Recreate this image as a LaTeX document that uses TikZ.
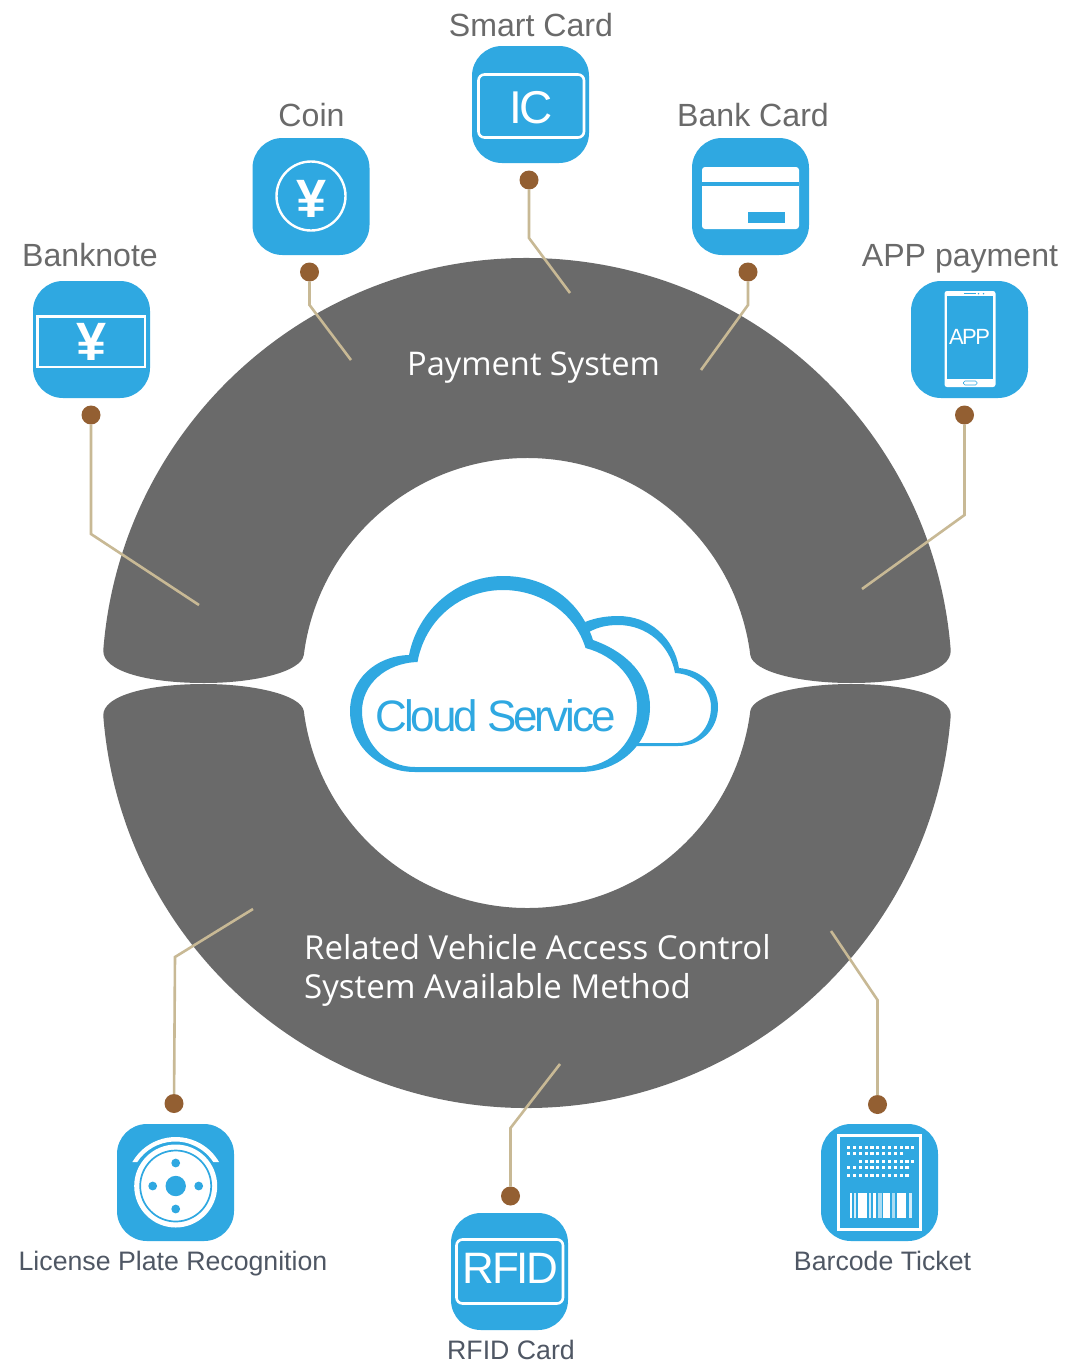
\documentclass[tikz,border=0pt]{standalone}
\usepackage{fontspec}
\setmainfont{Liberation Sans}
\newfontfamily\ringfont{Open Sans}
\newfontfamily\tightfont[LetterSpace=-7]{Liberation Sans}
\newfontfamily\rfidfont[LetterSpace=-5.5]{Liberation Sans}
\newfontfamily\yenfont{Liberation Sans Bold}
\definecolor{ringgray}{HTML}{6A6A6A}
\definecolor{iconblue}{HTML}{2FA8E1}
\definecolor{dotbrown}{HTML}{935F32}
\definecolor{conntan}{HTML}{C8B995}
\definecolor{labelgray}{HTML}{6A6A6A}
\definecolor{labeldark}{HTML}{4F5764}
\tikzset{
  ringshape/.style={fill=ringgray,draw=none},
  iconbox/.style={fill=iconblue,draw=none,rounded corners=30pt,minimum size=117pt,inner sep=0pt,outer sep=0pt},
  pin/.style={circle,fill=dotbrown,draw=none,minimum size=19pt,inner sep=0pt,outer sep=0pt},
  conn/.style={draw=conntan,line width=2.6pt,line join=miter},
  toplabel/.style={anchor=base,inner sep=0pt,text=labelgray,font=\fontsize{32.1}{38}\selectfont},
  botlabel/.style={anchor=base,inner sep=0pt,text=labeldark,font=\fontsize{26.7}{32}\selectfont},
  ringlabel/.style={anchor=base west,inner sep=0pt,text=white,font=\ringfont\fontsize{33}{39}\selectfont,align=left},
  whitebox/.style={draw=white,line width=2.6pt,fill=none},
  icontext/.style={anchor=base,inner sep=0pt,text=white},
  yen/.style={anchor=base,inner sep=0pt,text=white,font=\yenfont\fontsize{54}{54}\selectfont},
  cloudfill/.style={fill=iconblue,draw=none,even odd rule},
}
\begin{document}
\begin{tikzpicture}[x=1pt,y=-1pt]
\useasboundingbox (0,0) rectangle (1068,1365);
\fill[white] (0,0) rectangle (1068,1365);
% ---- ring halves
\path[ringshape] (103.3,650) arc[start angle=184.45,end angle=355.55,radius=425]
  .. controls (952,672) and (905,683) .. (851,683)
  .. controls (800,683) and (753,672) .. (750.3,655)
  arc[start angle=352.85,end angle=187.15,radius=225]
  .. controls (301,672) and (254,683) .. (204,683)
  .. controls (150,683) and (102,672) .. (103.3,650) -- cycle;
\path[ringshape] (103.3,716) arc[start angle=175.55,end angle=4.45,radius=425]
  .. controls (952,695) and (905,684) .. (851,684)
  .. controls (800,684) and (753,695) .. (750.3,711)
  arc[start angle=7.15,end angle=172.85,radius=225]
  .. controls (301,695) and (254,684) .. (204,684)
  .. controls (150,684) and (102,695) .. (103.3,716) -- cycle;
% ---- connector free ends
\coordinate (j1) at (91,534);   \coordinate (e1) at (199,605);
\coordinate (j2) at (309.5,305);  \coordinate (e2) at (351,360);
\coordinate (j3) at (529,238);  \coordinate (e3) at (570,293);
\coordinate (j4) at (748,305);  \coordinate (e4) at (701,370);
\coordinate (j5) at (964.5,515);  \coordinate (e5) at (862,589);
\coordinate (j6) at (175,957);  \coordinate (e6) at (253,909);
\coordinate (j7) at (510.5,1128); \coordinate (e7) at (560,1064);
\coordinate (j8) at (877.5,1000); \coordinate (e8) at (831,931);
% ---- pins
\node[pin] (p1) at (91,415) {};
\node[pin] (p2) at (309.5,272) {};
\node[pin] (p3) at (529,180) {};
\node[pin] (p4) at (748,272) {};
\node[pin] (p5) at (964.5,415) {};
\node[pin] (p6) at (174,1103.5) {};
\node[pin] (p7) at (510.5,1196) {};
\node[pin] (p8) at (877.5,1104.5) {};
\draw[conn] (p1) -- (j1) -- (e1);
\draw[conn] (p2) -- (j2) -- (e2);
\draw[conn] (p3) -- (j3) -- (e3);
\draw[conn] (p4) -- (j4) -- (e4);
\draw[conn] (p5) -- (j5) -- (e5);
\draw[conn] (p6) -- (j6) -- (e6);
\draw[conn] (p7) -- (j7) -- (e7);
\draw[conn] (p8) -- (j8) -- (e8);
% ---- icon boxes
\node[iconbox] (banknote) at (91.5,339.5) {};
\node[iconbox] (coin) at (311,196.5) {};
\node[iconbox] (smart) at (530.5,104.5) {};
\node[iconbox] (bank) at (750.5,196.5) {};
\node[iconbox] (app) at (969.5,339.5) {};
\node[iconbox] (lpr) at (175.5,1182.5) {};
\node[iconbox] (rfid) at (509.5,1271.5) {};
\node[iconbox] (barcode) at (879.5,1182.5) {};
% ---- labels
\node[toplabel] (lbanknote) at (90,266) {Banknote};
\node[toplabel] (lcoin) at (311.5,126) {Coin};
\node[toplabel] (lsmart) at (531,36) {Smart Card};
\node[toplabel] (lbank) at (753,126) {Bank Card};
\node[toplabel] (lapp) at (960,266) {APP payment};
\node[botlabel] (llpr) at (173,1270) {License Plate Recognition};
\node[botlabel] (lrfid) at (511,1359) {RFID Card};
\node[botlabel] (lbarcode) at (882.5,1270) {Barcode Ticket};
\node[ringlabel,font=\ringfont\fontsize{32.6}{39}\selectfont] (lpay) at (407,375) {Payment System};
\node[ringlabel] (lrel) at (304,998) {Related Vehicle Access Control\\System Available Method};
% ---- banknote glyph
\draw[whitebox] (37.5,316.5) rectangle (145,367);
\node[yen] (yen1) at (91.5,360) {¥};
% ---- coin glyph
\draw[white,line width=2.4pt] (311,196) circle[radius=34.5];
\node[yen] (yen2) at (312,217) {¥};
% ---- IC
\draw[whitebox,rounded corners=6pt] (478.5,74.5) rectangle (584,137.5);
\node[icontext,font=\tightfont\fontsize{46}{46}\selectfont] (ictext) at (531,123) {IC};
% ---- bank card
\fill[white,rounded corners=3pt] (702,167) rectangle (799,229);
\fill[iconblue] (702,182) rectangle (799,186);
\fill[iconblue] (747.5,212) rectangle (785,223);
% ---- phone
\fill[white,rounded corners=2.5pt] (944.5,291) rectangle (995.5,387);
\fill[iconblue] (947,296) rectangle (993,379);
\fill[iconblue] (964,293) rectangle (976,294.4);
\fill[iconblue] (978.5,293.7) circle[radius=.8];
\fill[iconblue] (983.5,293.7) circle[radius=.8];
\draw[iconblue,line width=.6pt,rounded corners=1.5pt] (963.5,381) rectangle (977,385);
\node[icontext,font=\tightfont\fontsize{22}{22}\selectfont] (apptext) at (969.5,344.5) {APP};
% ---- license plate recognition glyph
\fill[white] (175.7,1186) circle[radius=41.5];
\draw[iconblue,line width=1.7pt] (175.7,1186) circle[radius=35.5];
\fill[iconblue] (175.7,1186) circle[radius=10.2];
\foreach \dx/\dy in {0/-23,0/23,-23/0,23/0}
  \fill[iconblue] (175.7+\dx,1186+\dy) circle[radius=4.4];
\fill[white] (175.7,1187) ++(210:50) arc[start angle=210,end angle=330,radius=50]
  -- ++(-5.7,0) arc[start angle=326.7,end angle=213.3,radius=45.5] -- cycle;
% ---- RFID
\draw[whitebox,rounded corners=6pt] (456.5,1239.5) rectangle (563,1303.5);
\node[icontext,font=\rfidfont\fontsize{44}{44}\selectfont] (rfidtext) at (510.5,1283.5) {RFID};
% ---- barcode ticket
\draw[white,line width=3pt] (838.2,1135.5) rectangle (920.2,1229.2);
\foreach \y/\a/\n in {1147.3/0/11,1153.3/0/9,1161.3/2/11,1167.3/0/10,1175.3/0/10}{
  \foreach \i in {\a,...,\n}
    \fill[white] (848.7+5.83*\i-1.6,\y-1.6) rectangle ++(3.2,3.2);
}
\foreach \xa/\xb/\op in {850/852/1,853.7/856/.8,858/867/1,869/871/.8,873/875.5/1,878/882/.6,882.7/890/1,892/895/.6,897.3/906/1,908.5/911.5/.8}
  \fill[white,opacity=\op] (\xa,1193) rectangle (\xb,1218);
% ---- clouds
\path[cloudfill] (585,622) .. controls (595,618) and (606,616) .. (618,616)
  .. controls (650,616) and (674,638) .. (679,668)
  .. controls (702,670) and (718,686) .. (718,707)
  .. controls (718,729) and (701,746) .. (678,746)
  -- (637,746) -- (637,743) -- (678,743)
  .. controls (697,743) and (711,727) .. (711,707)
  .. controls (711,689) and (696,674) .. (675,673)
  .. controls (670,645) and (647,625) .. (618,625)
  .. controls (607,625) and (598,627) .. (589,632) -- cycle;
\path[cloudfill] (409,655)
  .. controls (418,610) and (457,576) .. (503,576)
  .. controls (546,576) and (580,600) .. (593,640)
  .. controls (627,652) and (650,676) .. (650,707)
  .. controls (650,744) and (620,772) .. (580,772)
  -- (415,772)
  .. controls (378,772) and (350,745) .. (350,711)
  .. controls (350,680) and (375,656) .. (409,655) -- cycle
  (417.5,662)
  .. controls (385,663) and (362,685) .. (362,711)
  .. controls (362,742) and (385,767) .. (415,767)
  -- (580,767)
  .. controls (612,767) and (637,740) .. (637,707)
  .. controls (637,680) and (616,656) .. (585.5,648)
  .. controls (575,613) and (541,590) .. (503,590)
  .. controls (460,590) and (425,620) .. (417.5,662) -- cycle;
\node[anchor=base,inner sep=0pt,text=iconblue,font=\tightfont\fontsize{44}{44}\selectfont] (cloudtext) at (495.5,731) {Cloud Service};
\end{tikzpicture}
\end{document}
